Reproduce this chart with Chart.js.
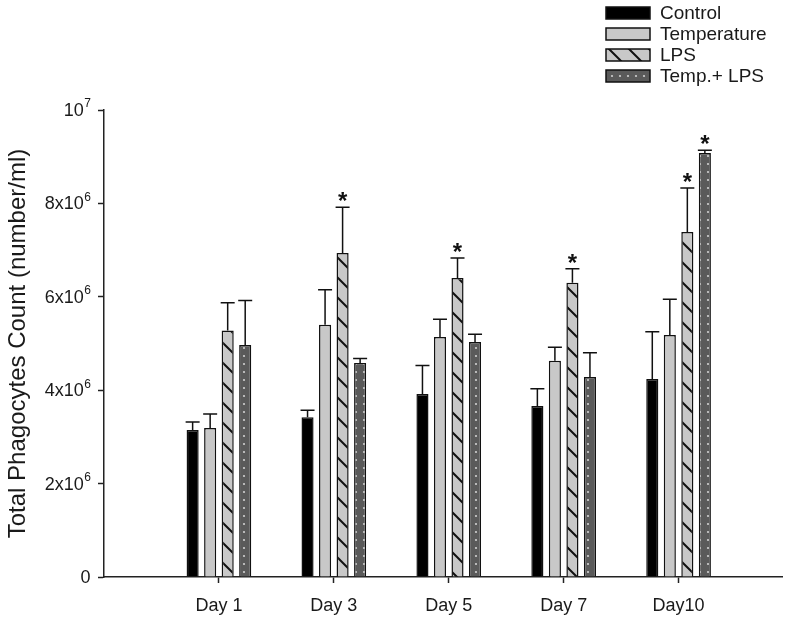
<!DOCTYPE html>
<html>
<head>
<meta charset="utf-8">
<script src="https://cdn.jsdelivr.net/npm/chart.js@4.4.0/dist/chart.umd.min.js"></script>
<style>
  html, body { margin: 0; padding: 0; background: #fff; }
  #wrap { width: 800px; height: 622px; }
</style>
</head>
<body>
<div id="wrap"><canvas id="graphic" width="800" height="622"></canvas></div>
<script>
// data (counts per ml)
const days = ['Day 1', 'Day 3', 'Day 5', 'Day 7', 'Day10'];
const seriesNames = ['Control', 'Temperature', 'LPS', 'Temp.+ LPS'];

const control = [3.15e6, 3.42e6, 3.92e6, 3.66e6, 4.24e6];
const temperature = [3.19e6, 5.40e6, 5.14e6, 4.63e6, 5.18e6];
const lps = [5.28e6, 6.94e6, 6.40e6, 6.30e6, 7.39e6];
const tempLps = [4.97e6, 4.58e6, 5.03e6, 4.28e6, 9.08e6];

// upper error bars
const controlErr = [0.17e6, 0.15e6, 0.61e6, 0.37e6, 1.01e6];
const temperatureErr = [0.30e6, 0.75e6, 0.38e6, 0.29e6, 0.77e6];
const lpsErr = [0.59e6, 0.98e6, 0.43e6, 0.30e6, 0.94e6];
const tempLpsErr = [0.95e6, 0.10e6, 0.17e6, 0.52e6, 0.06e6];

// significance marks (*)
const controlStar = [false, false, false, false, false];
const temperatureStar = [false, false, false, false, false];
const lpsStar = [false, true, true, true, true];
const tempLpsStar = [false, false, false, false, true];

const yTicks = [0, 2e6, 4e6, 6e6, 8e6, 1e7];
const yTickBase = ['0', '2x10', '4x10', '6x10', '8x10', '10'];
const yTickExp = ['', '6', '6', '6', '6', '7'];

const FONT = '"Liberation Sans", Arial, sans-serif';
const canvas = document.querySelector('#graphic');
const ctx = canvas.getContext('2d');

function hatchPattern() {
  const tile = document.createElement('canvas');
  tile.width = 20;
  tile.height = 20;
  const t = tile.getContext('2d');
  t.fillStyle = '#c8c8c8';
  t.fillRect(0, 0, 20, 20);
  t.strokeStyle = '#111';
  t.lineWidth = 2;
  t.beginPath();
  t.moveTo(-2, -2); t.lineTo(22, 22);
  t.moveTo(-2, 18); t.lineTo(2, 22);
  t.moveTo(18, -2); t.lineTo(22, 2);
  t.stroke();
  return ctx.createPattern(tile, 'repeat');
}

function dotPattern() {
  const tile = document.createElement('canvas');
  tile.width = 8;
  tile.height = 8;
  const t = tile.getContext('2d');
  t.fillStyle = '#5a5a5a';
  t.fillRect(0, 0, 8, 8);
  t.fillStyle = '#d0d0d0';
  t.beginPath();
  t.arc(4, 4, 1.1, 0, Math.PI * 2);
  t.fill();
  return ctx.createPattern(tile, 'repeat');
}

const fills = ['#000', '#c8c8c8', hatchPattern(), dotPattern()];
const values = [control, temperature, lps, tempLps];
const errors = [controlErr, temperatureErr, lpsErr, tempLpsErr];
const stars = [controlStar, temperatureStar, lpsStar, tempLpsStar];

const errorBars = {
  id: 'errorBars',
  afterDatasetsDraw(chart) {
    const c = chart.ctx;
    const yScale = chart.scales.y;
    c.save();
    c.strokeStyle = '#111';
    c.lineWidth = 1.5;
    chart.data.datasets.forEach((ds, i) => {
      chart.getDatasetMeta(i).data.forEach((bar, j) => {
        const top = yScale.getPixelForValue(values[i][j] + errors[i][j]);
        c.beginPath();
        c.moveTo(bar.x, bar.y);
        c.lineTo(bar.x, top);
        c.moveTo(bar.x - 7, top);
        c.lineTo(bar.x + 7, top);
        c.stroke();
        if (stars[i][j]) {
          c.fillStyle = '#111';
          c.font = 'bold 24px ' + FONT;
          c.textAlign = 'center';
          c.textBaseline = 'alphabetic';
          c.fillText('*', bar.x, top + 2);
        }
      });
    });
    c.restore();
  },
};

// y tick labels with a real superscript exponent
const powerLabels = {
  id: 'powerLabels',
  afterDraw(chart) {
    const c = chart.ctx;
    const yScale = chart.scales.y;
    const right = 91;
    c.save();
    c.fillStyle = '#1a1a1a';
    c.textBaseline = 'middle';
    c.textAlign = 'right';
    yTicks.forEach((v, i) => {
      const y = yScale.getPixelForValue(v);
      c.font = '12px ' + FONT;
      const expW = c.measureText(yTickExp[i]).width;
      c.fillText(yTickExp[i], right, y - 6);
      c.font = '18px ' + FONT;
      c.fillText(yTickBase[i], right - expW - 0.5, y + 1);
    });
    c.restore();
  },
};

const sideLegend = {
  id: 'sideLegend',
  afterDraw(chart) {
    const c = chart.ctx;
    c.save();
    chart.data.datasets.forEach((ds, i) => {
      const y = 7 + i * 21;
      c.fillStyle = ds.backgroundColor;
      c.fillRect(606, y, 44, 12);
      c.strokeStyle = '#111';
      c.lineWidth = 1.5;
      c.strokeRect(606, y, 44, 12);
      c.fillStyle = '#1a1a1a';
      c.font = '19px ' + FONT;
      c.textAlign = 'left';
      c.textBaseline = 'middle';
      c.fillText(ds.label, 660, y + 6.5);
    });
    c.restore();
  },
};

const graphic = new Chart(ctx, {
  type: 'bar',
  data: {
    datasets: seriesNames.map((name, i) => ({
      label: name,
      data: values[i].map((v, j) => ({ x: j, y: v })),
      backgroundColor: fills[i],
      borderColor: '#111',
      borderWidth: 1.5,
      categoryPercentage: 0.61,
      barPercentage: 0.69,
    })),
  },
  options: {
    responsive: false,
    animation: false,
    layout: { padding: { top: 110, right: 18, left: 0, bottom: 0 } },
    plugins: {
      legend: { display: false },
      tooltip: { enabled: false },
    },
    scales: {
      x: {
        type: 'linear',
        min: -1,
        max: 4.9,
        offset: false,
        afterBuildTicks: (scale) => { scale.ticks = days.map((d, i) => ({ value: i })); },
        afterFit: (scale) => { scale.height = 45; },
        ticks: {
          callback: (v) => days[v],
          color: '#1a1a1a',
          font: { family: FONT, size: 18 },
          padding: 12,
          maxRotation: 0,
        },
        grid: { drawOnChartArea: false, offset: false, tickLength: 6, tickColor: '#222', tickWidth: 1.5 },
        border: { color: '#222', width: 1.5 },
      },
      y: {
        min: 0,
        max: 1e7,
        afterBuildTicks: (scale) => { scale.ticks = yTicks.map((v) => ({ value: v })); },
        afterFit: (scale) => { scale.width = 104; },
        ticks: {
          callback: () => '',
          padding: 8,
        },
        grid: { drawOnChartArea: false, tickLength: 6, tickColor: '#222', tickWidth: 1.5 },
        border: { color: '#222', width: 1.5 },
        title: {
          display: true,
          text: 'Total Phagocytes Count (number/ml)',
          color: '#1a1a1a',
          font: { family: FONT, size: 24 },
          padding: { top: 4, bottom: 0 },
        },
      },
    },
  },
  plugins: [errorBars, powerLabels, sideLegend],
});
graphic.render();
</script>
</body>
</html>
